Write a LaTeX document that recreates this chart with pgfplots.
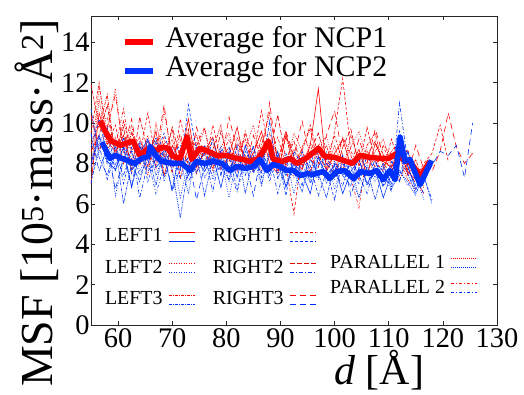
\documentclass[border=0pt]{standalone}
\usepackage{fontspec}
\setmainfont{Liberation Serif}
\usepackage{pgfplots}
\usepackage{pgfplotstable}
\pgfplotsset{compat=1.18}
\definecolor{ncpred}{RGB}{255,0,0}
\definecolor{ncpdred}{RGB}{225,0,0}
\definecolor{ncpblue}{RGB}{0,50,255}
\tikzset{
  sL1/.style={solid},
  sL2/.style={dash pattern=on 1bp off 1.5bp},
  sL3/.style={dash pattern=on 3bp off 1bp on 1bp off 1bp},
  sR1/.style={dash pattern=on 3bp off 2bp},
  sR2r/.style={dash pattern=on 5bp off 2bp},
  sR2b/.style={dash pattern=on 4bp off 2bp on 1bp off 2bp},
  sR3/.style={dash pattern=on 6bp off 4bp},
  sP1/.style={dash pattern=on 1bp off 1bp},
  sP2/.style={dash pattern=on 3bp off 2bp on 1bp off 2bp},
  thinr/.style={ncpred, line width=0.6bp},
  thinb/.style={ncpblue, line width=0.6bp},
}
\pgfplotsset{
  pairimg/.style 2 args={legend image code/.code={%
    \draw[thinr,#1] (0bp,4.5bp) -- (26bp,4.5bp);
    \draw[thinb,#2] (0bp,-4.5bp) -- (26bp,-4.5bp);}},
}
\pgfplotstableread{
x r1 r2 r3 r4 r5 r6 r7 r8 b1 b2 b3 b4 b5 b6 b7 b8
55.0 7.0 8.2 11.9 9.5 8.6 10.4 7.6 9.0 8.0 7.2 10.7 8.8 7.0 9.5 8.3 7.8
56.5 10.5 11.8 9.8 12.0 9.4 8.6 11.2 9.9 9.4 8.6 8.3 10.2 8.9 7.6 9.0 9.3
58.0 9.1 9.6 11.4 8.9 10.9 9.8 8.7 10.3 8.1 9.7 7.4 8.4 7.2 8.8 9.8 8.0
59.5 8.6 11.7 8.3 9.9 8.4 11.4 9.3 8.8 7.7 6.4 8.9 7.9 8.5 6.7 7.6 9.2
61.0 9.4 8.5 10.1 8.0 9.8 8.7 8.1 10.7 8.8 8.2 6.0 9.3 7.4 8.3 8.9 7.0
62.5 7.9 9.9 8.6 9.6 7.6 10.2 9.5 8.2 6.8 9.1 8.0 7.5 8.8 6.9 7.7 8.6
64.0 8.8 8.0 9.3 8.4 10.3 7.9 8.6 9.1 8.5 7.6 7.1 9.1 6.3 8.9 8.1 7.4
65.5 8.2 9.4 7.8 10.5 8.6 9.2 7.4 8.5 9.2 8.4 8.6 7.1 8.0 7.6 9.1 8.2
67.0 9.6 7.7 9.0 8.1 9.2 8.4 10.0 7.9 7.8 9.3 6.9 8.4 9.1 8.2 7.4 6.5
68.5 7.4 10.6 8.4 9.3 7.9 10.9 8.3 9.0 8.3 7.1 8.8 9.5 7.3 8.6 8.5 7.9
70.0 8.9 8.3 9.7 7.5 9.8 8.0 9.2 8.1 6.7 8.6 7.7 8.1 8.4 6.6 7.8 8.8
71.5 8.1 9.2 7.3 10.2 8.3 9.5 7.8 8.7 8.7 6.3 5.3 7.6 8.9 7.8 8.2 7.2
73.0 10.2 7.9 8.8 8.5 9.7 7.6 9.5 8.0 7.4 8.1 7.9 10.9 7.1 8.3 6.5 8.4
74.5 7.8 8.6 9.4 9.1 7.5 9.8 8.1 8.9 8.2 7.5 8.4 8.6 7.9 6.2 8.8 7.6
76.0 8.6 9.7 7.9 7.8 8.8 8.4 8.9 9.8 7.6 8.9 6.4 7.8 8.5 7.9 7.3 8.1
77.5 9.3 7.6 8.7 9.9 7.7 9.1 8.0 7.8 8.4 7.2 8.3 9.2 6.6 8.5 8.0 7.4
79.0 7.7 8.8 9.9 8.2 9.6 7.9 8.6 8.3 6.8 8.3 7.8 7.5 8.7 7.4 8.6 8.9
80.5 8.4 9.5 7.6 8.8 8.1 10.3 7.5 9.2 8.6 6.3 7.2 8.4 7.8 8.8 7.1 7.7
82.0 9.8 7.8 8.5 7.6 9.0 8.6 9.3 8.1 7.3 8.4 8.9 6.7 8.2 7.6 8.3 6.6
83.5 7.9 8.7 9.2 9.5 8.4 7.7 8.2 9.6 8.9 7.7 6.5 8.6 7.4 8.1 7.7 8.2
85.0 8.5 9.9 7.7 8.3 7.6 9.4 8.8 7.9 7.6 8.8 8.3 7.9 8.9 6.4 8.4 7.5
86.5 9.6 8.1 8.9 10.6 9.3 8.2 7.6 8.6 8.1 7.0 7.5 8.7 7.3 8.5 6.9 8.6
88.0 8.0 9.1 10.5 8.4 8.5 11.0 9.5 8.8 7.4 8.6 10.1 7.6 8.4 7.8 8.7 7.1
89.5 7.5 8.3 8.1 9.3 10.4 8.0 8.3 7.6 8.6 7.5 7.2 8.3 6.5 8.2 7.9 8.4
91.0 9.4 7.8 9.6 7.9 8.2 9.6 7.9 9.3 6.8 8.3 8.5 6.4 8.1 7.4 6.9 7.8
92.5 8.3 9.5 7.4 5.5 9.1 8.4 8.7 8.0 8.0 6.5 7.6 8.6 7.5 8.0 8.3 7.3
94.0 7.7 8.6 8.8 8.6 7.8 10.1 7.9 8.7 7.5 8.4 6.6 7.9 8.6 6.9 7.6 8.1
95.5 8.9 7.6 9.7 9.9 8.6 8.2 9.0 7.5 6.5 7.7 8.2 7.3 7.0 8.6 7.1 7.9
97.0 11.7 8.9 8.0 8.4 9.5 7.8 8.4 8.9 8.3 7.2 7.5 8.7 7.9 7.3 8.4 6.4
98.5 7.6 9.3 8.9 7.7 8.0 9.4 7.7 8.2 7.4 8.6 6.3 7.7 8.3 8.0 7.0 7.6
100.0 8.5 8.0 7.5 9.6 7.4 10.6 8.9 9.4 7.9 6.7 8.0 6.2 7.6 7.5 8.1 7.2
101.5 9.2 7.7 9.3 12.2 8.8 8.3 7.6 8.0 6.5 8.2 7.4 8.3 6.9 8.4 7.4 8.0
103.0 7.9 8.8 8.4 8.6 9.7 7.9 9.4 7.3 7.6 7.4 6.9 7.5 8.2 6.4 7.9 7.3
104.5 8.7 9.6 7.2 7.9 7.9 9.2 8.1 5.8 8.2 6.3 8.5 7.0 7.4 7.8 6.3 8.2
106.0 7.4 8.2 8.9 9.8 8.4 8.0 7.5 8.6 7.0 7.9 7.7 8.4 6.5 7.3 7.8 6.9
107.5 9.0 7.5 9.5 8.1 9.1 9.7 8.6 7.8 7.7 7.1 6.2 7.6 8.0 8.2 7.3 7.6
109.0 8.1 8.9 7.8 7.6 8.0 8.4 9.2 8.9 6.3 8.0 7.8 6.9 7.6 6.8 8.0 7.1
110.5 7.8 8.4 8.6 9.2 7.5 7.6 7.9 7.7 7.5 6.8 7.0 8.1 6.6 7.7 6.7 7.8
112.0 8.6 7.2 9.1 8.0 8.9 8.8 8.3 8.4 8.6 7.7 8.3 7.4 11.0 7.1 7.6 9.6
113.5 7.6 8.1 7.4 8.7 7.7 7.5 7.2 7.9 7.9 6.9 7.5 8.6 8.1 8.6 7.1 7.8
115.0 7.2 7.6 8.2 7.3 7.0 8.9 6.7 7.4 6.7 7.4 6.5 7.3 7.2 7.8 6.4 6.9
116.5 6.5 7.8 6.9 8.0 nan 7.7 nan 6.8 7.6 6.2 7.4 6.5 nan 7.1 nan 7.3
118.0 nan nan nan 8.5 nan 7.6 nan nan nan nan 6.0 nan nan 7.9 nan 6.2
119.5 nan nan nan 9.9 nan 8.6 nan nan nan nan nan nan nan 8.6 nan nan
121.0 nan nan nan 8.1 nan 10.5 nan nan nan nan nan nan nan 8.4 nan nan
122.5 nan nan nan nan nan 8.8 nan nan nan nan nan nan nan 8.9 nan nan
124.0 nan nan nan nan nan 8.0 nan nan nan nan nan nan nan 7.3 nan nan
125.5 nan nan nan nan nan 8.5 nan nan nan nan nan nan nan 10.0 nan nan
}\msfdata
\begin{document}
\begin{tikzpicture}
\begin{axis}[
  at={(0,0)}, anchor=south west,
  scale only axis, width=406bp, height=309bp,
  xmin=55, xmax=130, ymin=0, ymax=15.3,
  xtick={60,70,...,130}, ytick={0,2,...,14},
  tick align=inside, major tick length=4bp,
  axis line style={black!85, line width=0.6bp},
  every tick/.style={black!85, line width=0.6bp},
  /pgf/number format/assume math mode=true,
  ticklabel style={font=\fontsize{28.5}{30}\selectfont},
  yticklabel style={xshift=2bp},
  unbounded coords=jump,
  xlabel={\textit{d} [Å]},
  xlabel style={at={(axis description cs:0.71,-0.191)}, anchor=base, inner sep=0pt, font=\fontsize{42}{44}\selectfont},
  ylabel={MSF [10\textsuperscript{5}·mass·Å\textsuperscript{2}]},
  ylabel style={at={(axis description cs:-0.094,0.395)}, anchor=base, inner sep=0pt, font=\fontsize{46}{48}\selectfont},
  legend style={at={(0.076,0.9575)}, anchor=north west, draw=none, fill=none,
    inner sep=0pt, outer sep=0pt,
    font=\fontsize{30}{32}\selectfont,
    nodes={inner sep=0pt, text height=18bp, text depth=8bp},
    row sep=3bp, column sep=10bp},
  legend cell align=left,
  legend image code/.code={\draw[#1] (0bp,0bp) -- (28bp,0bp);},
]
% thin red series
\addplot[thinr,sL1,forget plot] table[x=x,y=r1] {\msfdata};
\addplot[thinr,sL2,forget plot] table[x=x,y=r2] {\msfdata};
\addplot[thinr,sL3,forget plot] table[x=x,y=r3] {\msfdata};
\addplot[thinr,sR1,forget plot] table[x=x,y=r4] {\msfdata};
\addplot[thinr,ncpdred,sR2r,forget plot] table[x=x,y=r5] {\msfdata};
\addplot[thinr,sR3,forget plot] table[x=x,y=r6] {\msfdata};
\addplot[thinr,sP1,forget plot] table[x=x,y=r7] {\msfdata};
\addplot[thinr,sP2,forget plot] table[x=x,y=r8] {\msfdata};
% thin blue series
\addplot[thinb,sL1,forget plot] table[x=x,y=b1] {\msfdata};
\addplot[thinb,sL2,forget plot] table[x=x,y=b2] {\msfdata};
\addplot[thinb,sL3,forget plot] table[x=x,y=b3] {\msfdata};
\addplot[thinb,sR1,forget plot] table[x=x,y=b4] {\msfdata};
\addplot[thinb,sR2b,forget plot] table[x=x,y=b5] {\msfdata};
\addplot[thinb,sR3,forget plot] table[x=x,y=b6] {\msfdata};
\addplot[thinb,sP1,forget plot] table[x=x,y=b7] {\msfdata};
\addplot[thinb,sP2,forget plot] table[x=x,y=b8] {\msfdata};
% averages
\addplot[ncpred, line width=5.5bp, line join=round] coordinates {
(56.7,10.1) (57.6,9.6) (58.8,9.1) (60.4,8.9) (61.5,9.0) (62.8,9.1) (64,8.4) (65.3,8.7) (66.3,8.6) (67.4,8.7) (68,8.8) (69.3,8.75) (70,8.4) (71.4,8.2) (72.7,9.3) (73.6,8.2) (75.1,8.75) (76.7,8.6) (78.2,8.4) (80,8.4) (81.9,8.25) (83,8.2) (84.4,8.1) (86,8.25) (87.8,9.1) (88.7,8.2) (90.3,8.1) (91.8,8.25) (93,8.0) (95,8.3) (97,8.75) (98.2,8.35) (100,8.3) (102.2,8.1) (103.3,8.0) (104.7,8.4) (106.5,8.3) (108.4,8.25) (110,8.25) (111.5,8.5) (112.7,8.2) (114.2,8.0) (115.8,7.35) (117.6,8.1)
};
\addlegendentry{Average for NCP1}
\addplot[ncpblue, line width=5.5bp, line join=round] coordinates {
(57,9.05) (58.5,8.25) (59.5,8.4) (60.7,8.25) (62.2,8.1) (63.1,8.0) (64.4,8.25) (65.6,8.35) (65.9,8.85) (67.1,8.35) (68,8.1) (70.2,8.0) (71.8,8.0) (73.3,7.65) (74.5,8.1) (76,8.0) (77.6,8.1) (79.2,8.0) (80.7,7.65) (81.9,7.85) (83.6,7.75) (85,7.85) (86.2,8.2) (87.5,7.65) (88.6,7.95) (89.9,7.85) (91.2,7.65) (92.4,7.65) (93.6,7.4) (95,7.5) (96,7.45) (97.9,7.6) (99.1,7.25) (100.4,7.6) (101.8,7.65) (103.5,7.25) (104.8,7.6) (106.5,7.5) (107.8,7.65) (109,7.2) (110.2,7.65) (111.2,7.2) (112.1,9.3) (113,8.1) (113.9,8.2) (115.8,6.95) (117.9,8.15)
};
\addlegendentry{Average for NCP2}
\end{axis}
% legend column 1
\begin{axis}[
  at={(0,0)}, anchor=south west, scale only axis, width=406bp, height=309bp,
  hide axis, xmin=0, xmax=1, ymin=0, ymax=1,
  legend style={at={(0.0345,0.3205)}, anchor=north west, draw=none, fill=none,
    inner sep=0pt, outer sep=0pt,
    font=\fontsize{20}{22}\selectfont,
    nodes={inner sep=0pt, text height=16bp, text depth=5bp},
    row sep=10.5bp, column sep=6bp},
  legend cell align=left, legend plot pos=right,
]
\addlegendimage{pairimg={sL1}{sL1}}
\addlegendentry{LEFT1}
\addlegendimage{pairimg={sL2}{sL2}}
\addlegendentry{LEFT2}
\addlegendimage{pairimg={sL3}{sL3}}
\addlegendentry{LEFT3}
\end{axis}
% legend column 2
\begin{axis}[
  at={(0,0)}, anchor=south west, scale only axis, width=406bp, height=309bp,
  hide axis, xmin=0, xmax=1, ymin=0, ymax=1,
  legend style={at={(0.300,0.3205)}, anchor=north west, draw=none, fill=none,
    inner sep=0pt, outer sep=0pt,
    font=\fontsize{20}{22}\selectfont,
    nodes={inner sep=0pt, text height=16bp, text depth=5bp},
    row sep=10.5bp, column sep=6bp},
  legend cell align=left, legend plot pos=right,
]
\addlegendimage{pairimg={sR1}{sR1}}
\addlegendentry{RIGHT1}
\addlegendimage{pairimg={ncpdred,sR2r}{sR2b}}
\addlegendentry{RIGHT2}
\addlegendimage{pairimg={sR3}{sR3}}
\addlegendentry{RIGHT3}
\end{axis}
% legend column 3
\begin{axis}[
  at={(0,0)}, anchor=south west, scale only axis, width=406bp, height=309bp,
  hide axis, xmin=0, xmax=1, ymin=0, ymax=1,
  legend style={at={(0.589,0.236)}, anchor=north west, draw=none, fill=none,
    inner sep=0pt, outer sep=0pt,
    font=\fontsize{20}{22}\selectfont,
    nodes={inner sep=0pt, text height=16bp, text depth=5bp},
    row sep=4bp, column sep=6bp},
  legend cell align=left, legend plot pos=right,
]
\addlegendimage{pairimg={sP1}{sP1}}
\addlegendentry{PARALLEL 1}
\addlegendimage{pairimg={sP2}{sP2}}
\addlegendentry{PARALLEL 2}
\end{axis}
\pgfresetboundingbox
\path[use as bounding box] (-91bp,-70bp) rectangle (433bp,325bp);
\end{tikzpicture}
\end{document}
